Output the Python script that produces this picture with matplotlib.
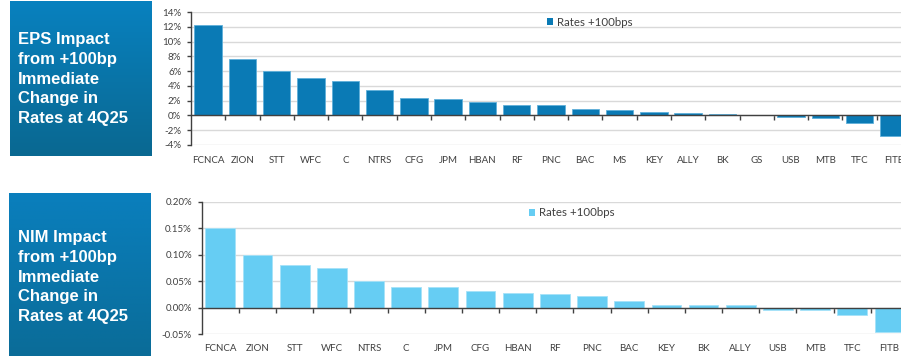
import numpy as np
import matplotlib
matplotlib.use("Agg")
import matplotlib.pyplot as plt
from matplotlib.ticker import FixedLocator, FuncFormatter
from matplotlib.colors import LinearSegmentedColormap

# ---------------- data ----------------
eps_banks = ["FCNCA", "ZION", "STT", "WFC", "C", "NTRS", "CFG", "JPM", "HBAN", "RF",
             "PNC", "BAC", "MS", "KEY", "ALLY", "BK", "GS", "USB", "MTB", "TFC", "FITB"]
eps_vals = [12.2, 7.6, 6.0, 5.1, 4.6, 3.4, 2.35, 2.2, 1.8, 1.35,
            1.35, 0.9, 0.8, 0.45, 0.3, 0.2, 0.0, -0.2, -0.3, -1.05, -2.8]
eps_yticks = [-4, -2, 0, 2, 4, 6, 8, 10, 12, 14]

nim_banks = ["FCNCA", "ZION", "STT", "WFC", "NTRS", "C", "JPM", "CFG", "HBAN", "RF",
             "PNC", "BAC", "KEY", "BK", "ALLY", "USB", "MTB", "TFC", "FITB"]
nim_vals = [0.150, 0.100, 0.080, 0.074, 0.051, 0.039, 0.038, 0.032, 0.028, 0.0265,
            0.0215, 0.0125, 0.005, 0.0055, 0.004, -0.004, -0.005, -0.014, -0.046]
nim_yticks = [-0.05, 0.0, 0.05, 0.10, 0.15, 0.20]

series_label = "Rates +100bps"
eps_title = "EPS Impact\nfrom +100bp\nImmediate\nChange in\nRates at 4Q25"
nim_title = "NIM Impact\nfrom +100bp\nImmediate\nChange in\nRates at 4Q25"

# ---------------- figure ----------------
W, H = 901, 356
fig = plt.figure(figsize=(W / 100, H / 100), dpi=100)
tick_font = "Lato"
axis_col = "#404040"
grid_col = "#d9d9d9"


def fx(px):
    return px / W


def fy(py):
    return 1 - py / H


# background decoration axes (pixel coords)
bg = fig.add_axes([0, 0, 1, 1], zorder=0)
bg.set_xlim(0, W)
bg.set_ylim(H, 0)
bg.axis("off")

grad = np.linspace(0, 1, 256).reshape(-1, 1)
cm_top = LinearSegmentedColormap.from_list("t", ["#0881bf", "#0a6891"])
cm_bot = LinearSegmentedColormap.from_list("b", ["#0a7fbd", "#0a6c98"])
bg.imshow(grad, cmap=cm_top, extent=(10, 152, 156, 1), aspect="auto")
bg.imshow(grad, cmap=cm_bot, extent=(9, 151, 356, 193), aspect="auto")
bg.set_xlim(0, W)
bg.set_ylim(H, 0)

bg.text(18, 79, eps_title, color="white", fontsize=12, fontweight="bold",
        family="Liberation Sans", va="center", ha="left", linespacing=1.4)
bg.text(18, 277, nim_title, color="white", fontsize=12, fontweight="bold",
        family="Liberation Sans", va="center", ha="left", linespacing=1.4)


def make_chart(rect, banks, vals, yticks, fmt, color, edge, label_pad, legend_xy):
    ax = fig.add_axes(rect, zorder=1)
    ax.patch.set_alpha(0)
    x = np.arange(len(banks))
    ax.bar(x, vals, width=0.8, color=color, edgecolor=edge, linewidth=0.6,
           label=series_label, zorder=3)
    ax.set_xlim(-0.5, len(banks) - 0.5)
    ax.set_ylim(yticks[0], yticks[-1])
    ax.yaxis.set_major_locator(FixedLocator(yticks))
    ax.yaxis.set_major_formatter(FuncFormatter(fmt))
    ax.grid(axis="y", color=grid_col, linewidth=1, zorder=0)
    ax.set_axisbelow(True)
    for s in ("top", "right"):
        ax.spines[s].set_visible(False)
    ax.spines["left"].set_color(axis_col)
    ax.spines["left"].set_linewidth(1)
    ax.spines["bottom"].set_position(("data", 0))
    ax.spines["bottom"].set_color(axis_col)
    ax.spines["bottom"].set_linewidth(1)
    ax.spines["bottom"].set_zorder(4)
    ax.set_xticks(x)
    ax.set_xticklabels(banks)
    ax.set_xticks(x[:-1] + 0.5, minor=True)
    ax.tick_params(axis="x", which="major", length=0, pad=label_pad,
                   labelsize=7, labelcolor=axis_col)
    ax.tick_params(axis="x", which="minor", length=3.5, width=1, color=axis_col,
                   direction="out")
    ax.tick_params(axis="y", length=3, width=1, color=axis_col, pad=4,
                   labelsize=7, labelcolor=axis_col)
    for t in ax.get_xticklabels() + ax.get_yticklabels():
        t.set_family(tick_font)
    leg = ax.legend(loc="center left", bbox_to_anchor=legend_xy,
                    bbox_transform=fig.transFigure, frameon=False,
                    borderpad=0, borderaxespad=0, handlelength=0.55,
                    handleheight=0.55, handletextpad=0.35,
                    prop={"family": tick_font, "size": 8.3})
    for t in leg.get_texts():
        t.set_color(axis_col)
    for h in leg.legend_handles:
        h.set_edgecolor("none")
    return ax


# top chart: axis x 191..911, y 12..145
make_chart([fx(191), fy(145), fx(911) - fx(191), fy(12) - fy(145)],
           eps_banks, eps_vals, eps_yticks, lambda v, p: f"{v:.0f}%",
           "#0a7ab5", "#5fb0da", 29, (fx(547), fy(22)))

# bottom chart: axis x 201.7..908, y 201.7..334
make_chart([fx(201.7), fy(334), fx(908) - fx(201.7), fy(201.7) - fy(334)],
           nim_banks, nim_vals, nim_yticks, lambda v, p: f"{v:.2f}%",
           "#66cdf3", "#a6e2f8", 26.5, (fx(529), fy(213)))

fig.savefig("out.png", dpi=100)
